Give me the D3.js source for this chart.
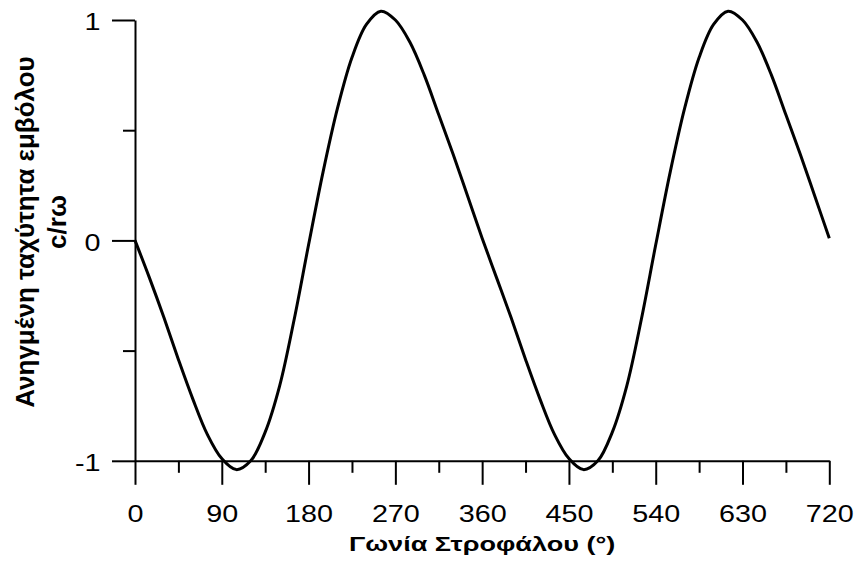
<!DOCTYPE html>
<html>
<head>
<meta charset="utf-8">
<script src="https://cdn.jsdelivr.net/npm/d3@7/dist/d3.min.js"></script>
<style>
  html, body { margin: 0; padding: 0; background: #fff; }
  svg { display: block; }
  text { font-family: "Liberation Sans", Arial, sans-serif; fill: #000; }
</style>
</head>
<body>
<svg id="chart" width="858" height="566"></svg>
<script>
// Crank angle (degrees)
const crankAngle = [
  0, 15, 30, 45, 60, 75, 90, 105, 120, 135, 150, 165,
  180, 195, 210, 225, 240, 255, 270, 285, 300, 315, 330, 345,
  360, 375, 390, 405, 420, 435, 450, 465, 480, 495, 510, 525,
  540, 555, 570, 585, 600, 615, 630, 645, 660, 675, 690, 705, 720
];
// Normalised piston velocity c/rω
const pistonVelocity = [
  0.00, -0.17, -0.35, -0.54, -0.72, -0.88, -0.99, -1.04, -1.00, -0.87, -0.66, -0.36,
  -0.02, 0.31, 0.60, 0.83, 0.98, 1.04, 1.00, 0.90, 0.75, 0.57, 0.39, 0.20,
  0.01, -0.17, -0.35, -0.54, -0.72, -0.88, -0.99, -1.04, -1.00, -0.87, -0.66, -0.36,
  -0.02, 0.31, 0.60, 0.83, 0.98, 1.04, 1.00, 0.90, 0.75, 0.57, 0.39, 0.20, 0.01
];
const xMajorTicks = [0, 90, 180, 270, 360, 450, 540, 630, 720];
const xMinorTicks = [45, 135, 225, 315, 405, 495, 585, 675];
const yMajorTicks = [-1, 0, 1];
const yMinorTicks = [-0.5, 0.5];
const xTitle = "Γωνία Στροφάλου (°)";
const yTitleLines = ["Ανηγμένη ταχύτητα εμβόλου", "c/rω"];

const svg = d3.select("#chart");
const x = d3.scaleLinear().domain([0, 720]).range([135, 829.3]);
const y = d3.scaleLinear().domain([-1, 1]).range([460.8, 20]);
const stretch = 1.25;

// X axis (major + minor)
const gx = svg.append("g").attr("transform", `translate(0,${y(-1)})`);
gx.call(d3.axisBottom(x).tickValues(xMajorTicks).tickSize(24).tickSizeOuter(0).tickPadding(21)
  .tickFormat(d => String(d)));
const gxm = svg.append("g").attr("transform", `translate(0,${y(-1)})`);
gxm.call(d3.axisBottom(x).tickValues(xMinorTicks).tickSize(12).tickSizeOuter(0).tickFormat(""));
gxm.select(".domain").remove();

// Y axis (major + minor)
const gy = svg.append("g").attr("transform", `translate(${x(0)},0)`);
gy.call(d3.axisLeft(y).tickValues(yMajorTicks).tickSize(23).tickSizeOuter(0).tickPadding(10)
  .tickFormat(d => String(d)));
const gym = svg.append("g").attr("transform", `translate(${x(0)},0)`);
gym.call(d3.axisLeft(y).tickValues(yMinorTicks).tickSize(12).tickSizeOuter(0).tickFormat(""));
gym.select(".domain").remove();

svg.selectAll(".domain").attr("stroke", "#000").attr("stroke-width", 2);
svg.selectAll(".tick line").attr("stroke", "#000").attr("stroke-width", 2);
svg.selectAll(".tick text").attr("font-family", "Liberation Sans, Arial, sans-serif")
  .attr("font-size", 23).attr("fill", "#000")
  .attr("transform", `scale(${stretch},1)`);
gy.selectAll(".tick text").attr("dy", "0.42em").attr("x", -34.5 / stretch);

// Curve
const line = d3.line()
  .x((d, i) => x(crankAngle[i]))
  .y(d => y(d))
  .curve(d3.curveCatmullRom.alpha(0.5));
svg.append("path")
  .attr("d", line(pistonVelocity))
  .attr("fill", "none")
  .attr("stroke", "#000")
  .attr("stroke-width", 3)
  .attr("stroke-linejoin", "round");

// Titles
svg.append("g")
  .attr("transform", `translate(${(x(0) + x(720)) / 2},551) scale(1.29,1)`)
  .append("text")
  .attr("text-anchor", "middle").attr("font-weight", "bold").attr("font-size", 21)
  .text(xTitle);

const yt = svg.append("text")
  .attr("transform", "rotate(-90)")
  .attr("text-anchor", "middle").attr("font-weight", "bold").attr("font-size", 26);
yt.append("tspan").attr("x", -232).attr("y", 33.5).text(yTitleLines[0]);
yt.append("tspan").attr("x", -222).attr("y", 66).text(yTitleLines[1]);
</script>
</body>
</html>
